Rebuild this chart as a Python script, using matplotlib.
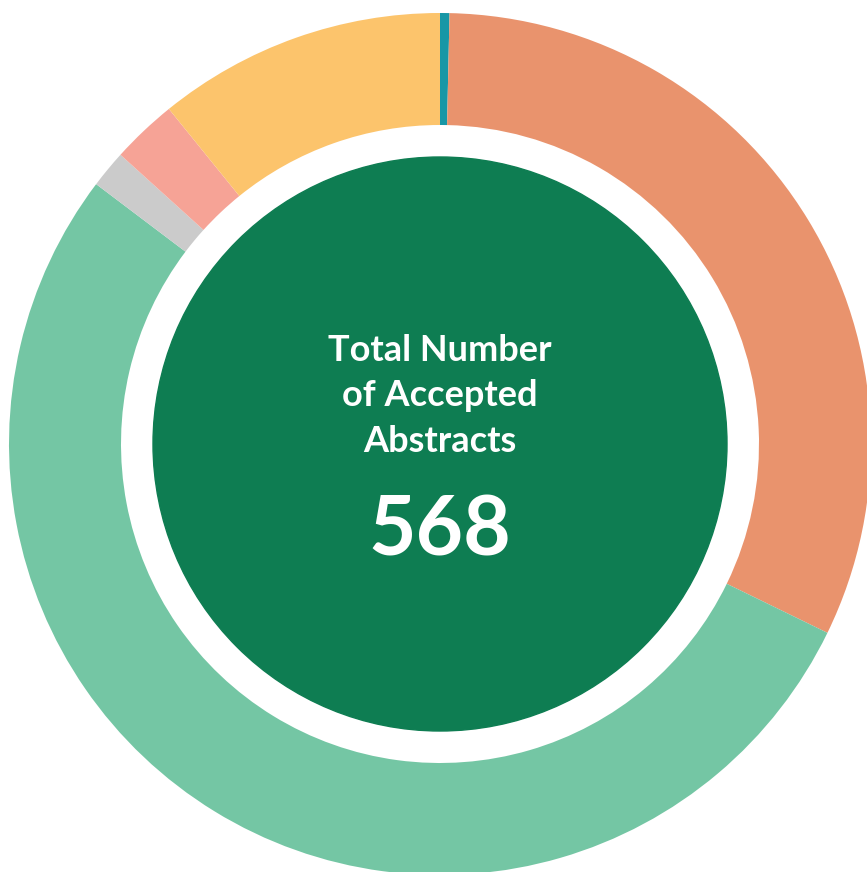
import matplotlib.pyplot as plt

# Accepted abstracts by category (clockwise from 12 o'clock)
categories = ['Cat A', 'Cat B', 'Cat C', 'Cat D', 'Cat E', 'Cat F']
counts = [2, 181, 301.5, 8, 14, 61.5]
colors = ['#1797A6', '#E9936D', '#74C6A4', '#CBCBCB', '#F6A396', '#FCC46C']
total_label = '568'
title_lines = ['Total Number', 'of Accepted', 'Abstracts']

W, H = 867, 872
cx, cy = 440, H - 444

fig = plt.figure(figsize=(W / 100, H / 100), dpi=100)
ax = fig.add_axes([0, 0, 1, 1])

ax.pie(counts, colors=colors, startangle=90, counterclock=False,
       center=(cx, cy), radius=431,
       wedgeprops=dict(width=112, linewidth=0))

# inner filled circle
ax.add_patch(plt.Circle((cx, cy), 287, color='#0E7D52', zorder=3))

font = ['Lato', 'DejaVu Sans']
baselines = [361, 406, 452]
for line, yb in zip(title_lines, baselines):
    ax.text(cx, H - yb, line, ha='center', va='baseline', color='white',
            fontsize=26, fontweight='bold', family=font, zorder=4)
ax.text(cx, H - 555, total_label, ha='center', va='baseline', color='white',
        fontsize=59, fontweight='bold', family=font, zorder=4)

ax.set_xlim(0, W)
ax.set_ylim(0, H)
ax.set_aspect('equal')
ax.axis('off')

fig.savefig('out.png', dpi=100, facecolor='white')
